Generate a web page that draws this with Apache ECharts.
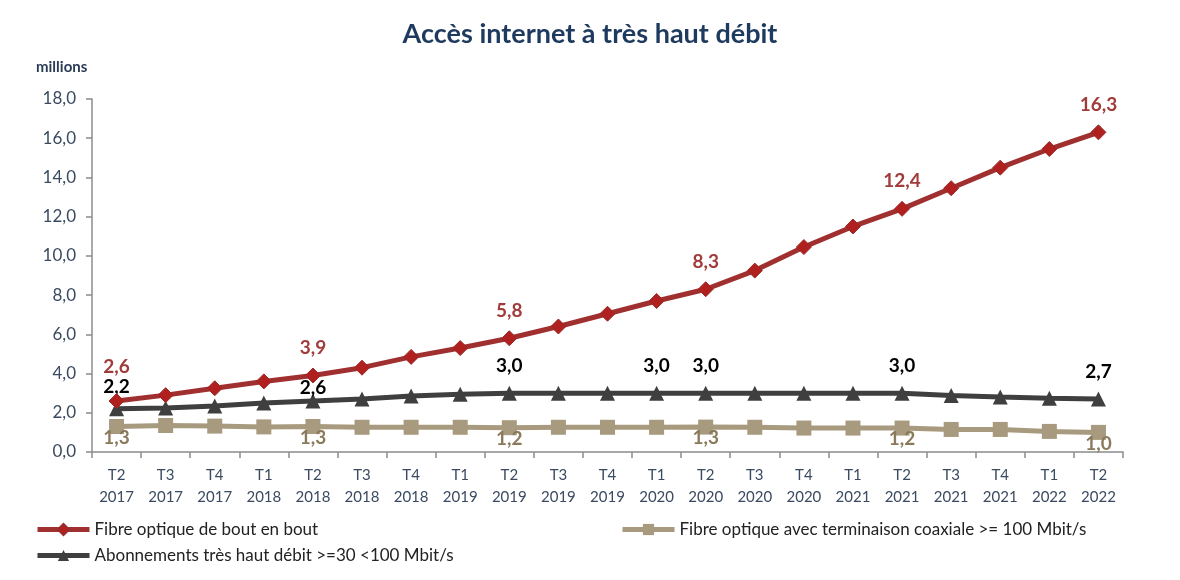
<!DOCTYPE html>
<html>
<head>
<meta charset="utf-8">
<script src="https://cdn.jsdelivr.net/npm/echarts@6/dist/echarts.min.js"></script>
<style>
  html, body { margin: 0; padding: 0; background: #fff; }
  #chart { width: 1180px; height: 580px; }
</style>
</head>
<body>
<div id="chart"></div>
<script>
// quarters, T2 2017 .. T2 2022
const quarters = ['T2\n2017', 'T3\n2017', 'T4\n2017', 'T1\n2018', 'T2\n2018', 'T3\n2018', 'T4\n2018',
  'T1\n2019', 'T2\n2019', 'T3\n2019', 'T4\n2019', 'T1\n2020', 'T2\n2020', 'T3\n2020', 'T4\n2020',
  'T1\n2021', 'T2\n2021', 'T3\n2021', 'T4\n2021', 'T1\n2022', 'T2\n2022']
const fibreBout = [2.6, 2.9, 3.25, 3.6, 3.9, 4.3, 4.85, 5.3, 5.8, 6.4, 7.05, 7.7, 8.3, 9.25, 10.45,
  11.5, 12.4, 13.45, 14.5, 15.45, 16.3]
const abonnements = [2.2, 2.24, 2.35, 2.5, 2.6, 2.7, 2.85, 2.95, 3.0, 3.0, 3.0, 3.0, 3.0, 3.0, 3.0,
  3.0, 3.0, 2.88, 2.8, 2.74, 2.7]
const fibreCoax = [1.3, 1.35, 1.32, 1.28, 1.3, 1.26, 1.26, 1.26, 1.24, 1.26, 1.26, 1.26, 1.27, 1.26, 1.22,
  1.22, 1.22, 1.15, 1.15, 1.05, 1.0]
const yTicks = [0, 2, 4, 6, 8, 10, 12, 14, 16, 18]
// indexes of points that carry a value label
const fibreBoutLabels = [0, 4, 8, 12, 16, 20]
const abonnementsLabels = [0, 4, 8, 11, 12, 16, 20]
const fibreCoaxLabels = [0, 4, 8, 12, 16, 20]

const fmt = v => v.toFixed(1).replace('.', ',')
const FONT = 'Lato'

function withLabels (values, idx, labelOpt) {
  return values.map((v, i) => idx.indexOf(i) >= 0
    ? { value: v, label: Object.assign({ show: true }, labelOpt(i)) }
    : v)
}

const chart = echarts.init(document.getElementById('chart'))

const legendText = { fontFamily: FONT, fontSize: 17, color: '#222' }

const option = {
  backgroundColor: '#fff',
  animation: false,
  textStyle: { fontFamily: FONT },
  title: [{
    text: 'Accès internet à très haut débit',
    left: 'center',
    top: 16,
    textStyle: { fontFamily: FONT, fontSize: 27, fontWeight: 'bold', color: '#1F3A5F' }
  }, {
    text: 'millions',
    left: 31,
    top: 55,
    textStyle: { fontFamily: FONT, fontSize: 15, fontWeight: 'bold', color: '#2A3B55' }
  }],
  legend: [{
    data: ['Fibre optique de bout en bout'],
    left: 30, top: 516,
    itemWidth: 52, itemHeight: 14,
    lineStyle: { width: 5 },
    textStyle: legendText
  }, {
    data: ['Fibre optique avec terminaison coaxiale >= 100 Mbit/s'],
    left: 615, top: 516,
    itemWidth: 52, itemHeight: 14,
    lineStyle: { width: 5 },
    textStyle: legendText
  }, {
    data: ['Abonnements très haut débit >=30 <100 Mbit/s'],
    left: 30, top: 542,
    itemWidth: 52, itemHeight: 14,
    lineStyle: { width: 5 },
    textStyle: legendText
  }],
  grid: { left: 92, right: 57, top: 99, bottom: 128 },
  xAxis: {
    type: 'category',
    data: quarters,
    boundaryGap: true,
    axisLine: { lineStyle: { color: '#8c8c8c', width: 1.5 } },
    axisTick: { show: true, interval: 0, length: 6, lineStyle: { color: '#8c8c8c', width: 1.5 } },
    axisLabel: { interval: 0, margin: 12, fontFamily: FONT, fontSize: 15, lineHeight: 22, color: '#3A4A60' }
  },
  yAxis: {
    type: 'value',
    min: yTicks[0],
    max: yTicks[yTicks.length - 1],
    interval: 2,
    axisLine: { show: true, lineStyle: { color: '#8c8c8c', width: 1.5 } },
    axisTick: { show: true, length: 6, lineStyle: { color: '#8c8c8c', width: 1.5 } },
    splitLine: { show: false },
    axisLabel: { margin: 16, fontFamily: FONT, fontSize: 17, color: '#3A4A60', formatter: v => fmt(v) }
  },
  series: [{
    name: 'Fibre optique de bout en bout',
    type: 'line',
    z: 3,
    symbol: 'diamond',
    symbolSize: 15,
    lineStyle: { color: '#A0302F', width: 5 },
    itemStyle: { color: '#B0201F', borderColor: '#9A2A2A', borderWidth: 1 },
    label: { formatter: p => fmt(p.value), fontFamily: FONT, fontSize: 19, fontWeight: 'bold', color: '#A23B3B' },
    data: withLabels(fibreBout, fibreBoutLabels, i => ({ position: 'top', distance: i === 0 ? 17 : 10 }))
  }, {
    name: 'Fibre optique avec terminaison coaxiale >= 100 Mbit/s',
    type: 'line',
    z: 1,
    symbol: 'rect',
    symbolSize: 15,
    lineStyle: { color: '#A89A7E', width: 5 },
    itemStyle: { color: '#A89A7E' },
    label: { formatter: p => fmt(p.value), fontFamily: FONT, fontSize: 19, fontWeight: 'bold', color: '#8A7A5C' },
    data: withLabels(fibreCoax, fibreCoaxLabels, () => ({ position: 'bottom', distance: -6 }))
  }, {
    name: 'Abonnements très haut débit >=30 <100 Mbit/s',
    type: 'line',
    z: 2,
    symbol: 'triangle',
    symbolSize: 15,
    lineStyle: { color: '#3F3F3F', width: 5 },
    itemStyle: { color: '#3F3F3F' },
    label: { formatter: p => fmt(p.value), fontFamily: FONT, fontSize: 19, fontWeight: 'bold', color: '#000' },
    data: withLabels(abonnements, abonnementsLabels, i => ({
      position: 'top',
      distance: i === 0 ? 5 : (i === 4 ? -4 : 10)
    }))
  }]
}

chart.setOption(option)
</script>
</body>
</html>
